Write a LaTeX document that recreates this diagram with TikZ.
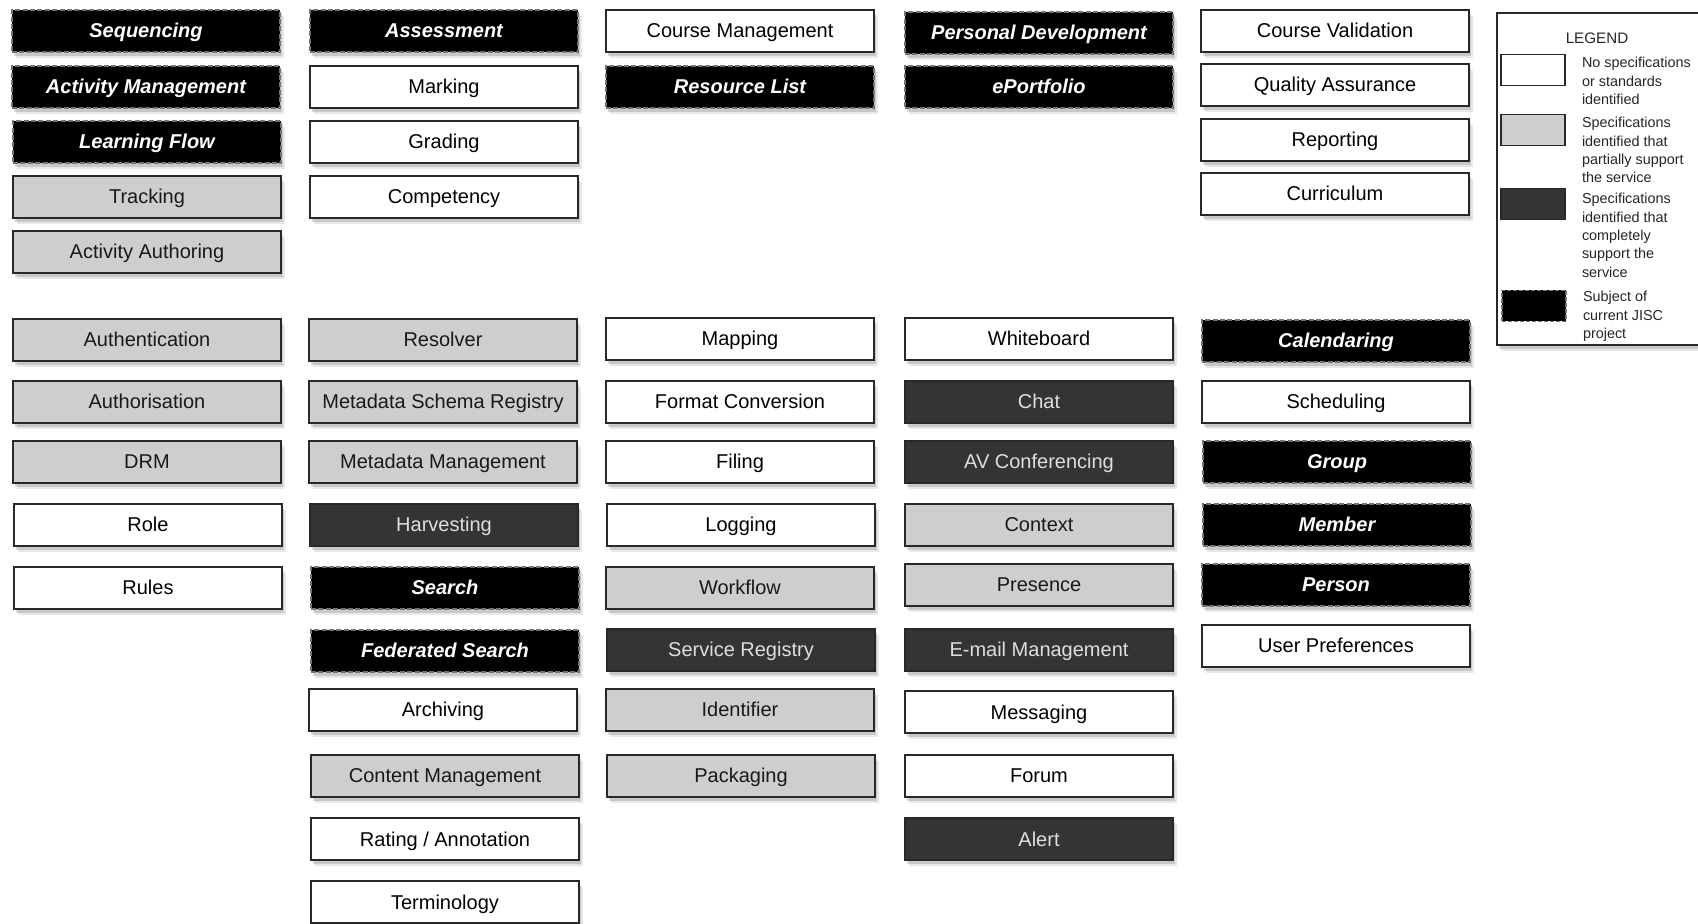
\documentclass[tikz,border=0pt]{standalone}
\usepackage{fontspec}
\setmainfont{Liberation Sans}
\usetikzlibrary{shadows}

\definecolor{partgray}{RGB}{206,206,206}
\definecolor{fullgray}{RGB}{52,52,52}
\definecolor{fulltext}{RGB}{222,222,222}
\definecolor{edgegray}{RGB}{40,40,40}

\tikzset{
  svc/.style={rectangle, minimum width=134pt, minimum height=21pt, inner sep=1pt,
    text height=7.3pt, text depth=0.3pt,
    font=\fontsize{10}{12}\selectfont, draw=edgegray, line width=0.6pt,
    drop shadow={opacity=0.18, shadow xshift=1.8pt, shadow yshift=-3pt},
    drop shadow={opacity=0.3, shadow xshift=1pt, shadow yshift=-1.8pt}},
  nospec/.style={svc, fill=white, text=black},
  partial/.style={svc, fill=partgray, text=black!90},
  complete/.style={svc, fill=fullgray, text=fulltext},
  jisc/.style={svc, fill=black, text=white, draw=black!55, dash pattern=on 2.5pt off 1.2pt,
    font=\fontsize{10}{12}\selectfont\bfseries\itshape},
  swatch/.style={rectangle, minimum width=32pt, minimum height=15.5pt, inner sep=0pt,
    draw=edgegray, line width=0.6pt},
  legtext/.style={anchor=north west, inner sep=0pt, align=left,
    font=\fontsize{7.2}{9.2}\selectfont, text=black!85}
}

\begin{document}
\begin{tikzpicture}[x=0.5pt,y=0.5pt,yscale=-1,xscale=1]
\useasboundingbox (0,0) rectangle (1698,924);
\fill[white] (0,0) rectangle (1698,924);

% Column 1
\node[jisc] (seq) at (146,31) {Sequencing};
\node[jisc] (actmgmt) at (146,87) {Activity Management};
\node[jisc] (learnflow) at (147,142) {Learning Flow};
\node[partial] (tracking) at (147,197) {Tracking};
\node[partial] (actauth) at (147,252) {Activity Authoring};

\node[partial] (authn) at (147,340) {Authentication};
\node[partial] (authz) at (147,402) {Authorisation};
\node[partial] (drm) at (147,462) {DRM};
\node[nospec] (role) at (148,525) {Role};
\node[nospec] (rules) at (148,588) {Rules};

% Column 2
\node[jisc] (assess) at (444,31) {Assessment};
\node[nospec] (marking) at (444,87) {Marking};
\node[nospec] (grading) at (444,142) {Grading};
\node[nospec] (compet) at (444,197) {Competency};

\node[partial] (resolver) at (443,340) {Resolver};
\node[partial] (mdreg) at (443,402) {Metadata Schema Registry};
\node[partial] (mdmgmt) at (443,462) {Metadata Management};
\node[complete] (harvest) at (444,525) {Harvesting};
\node[jisc] (search) at (445,588) {Search};
\node[jisc] (fedsearch) at (445,651) {Federated Search};
\node[nospec] (archive) at (443,710) {Archiving};
\node[partial] (contmgmt) at (445,776) {Content Management};
\node[nospec] (rating) at (445,839) {Rating / Annotation};
\node[nospec] (termin) at (445,902) {Terminology};

% Column 3
\node[nospec] (coursemgmt) at (740,31) {Course Management};
\node[jisc] (reslist) at (740,87) {Resource List};

\node[nospec] (mapping) at (740,339) {Mapping};
\node[nospec] (formconv) at (740,402) {Format Conversion};
\node[nospec] (filing) at (740,462) {Filing};
\node[nospec] (logging) at (741,525) {Logging};
\node[partial] (workflow) at (740,588) {Workflow};
\node[complete] (svcreg) at (741,650) {Service Registry};
\node[partial] (ident) at (740,710) {Identifier};
\node[partial] (packaging) at (741,776) {Packaging};

% Column 4
\node[jisc] (persdev) at (1039,33) {Personal Development};
\node[jisc] (eport) at (1039,87) {ePortfolio};

\node[nospec] (whiteb) at (1039,339) {Whiteboard};
\node[complete] (chat) at (1039,402) {Chat};
\node[complete] (avconf) at (1039,462) {AV Conferencing};
\node[partial] (context) at (1039,525) {Context};
\node[partial] (presence) at (1039,585) {Presence};
\node[complete] (email) at (1039,650) {E-mail Management};
\node[nospec] (messaging) at (1039,712) {Messaging};
\node[nospec] (forum) at (1039,776) {Forum};
\node[complete] (alert) at (1039,839) {Alert};

% Column 5
\node[nospec] (coursevalid) at (1335,31) {Course Validation};
\node[nospec] (qualassur) at (1335,85) {Quality Assurance};
\node[nospec] (reporting) at (1335,140) {Reporting};
\node[nospec] (curric) at (1335,194) {Curriculum};

\node[jisc] (calendar) at (1336,341) {Calendaring};
\node[nospec] (sched) at (1336,402) {Scheduling};
\node[jisc] (group) at (1337,462) {Group};
\node[jisc] (member) at (1337,525) {Member};
\node[jisc] (person) at (1336,585) {Person};
\node[nospec] (userpref) at (1336,646) {User Preferences};

% Legend
\node[rectangle, draw=edgegray, fill=white, line width=0.6pt, minimum width=108pt, minimum height=166pt,
  drop shadow={opacity=0.18, shadow xshift=1.8pt, shadow yshift=-3pt},
  drop shadow={opacity=0.3, shadow xshift=1pt, shadow yshift=-1.8pt}] (legend) at (1605,179) {};
\node[font=\fontsize{7.6}{9}\selectfont, text=black!85] (legtitle) at (1597,38) {LEGEND};
\node[swatch, fill=white] (lg1) at (1533,70) {};
\node[swatch, fill=partgray] (lg2) at (1533,130) {};
\node[swatch, fill=fullgray] (lg3) at (1533,204) {};
\node[swatch, fill=black, draw=black!55, dash pattern=on 2pt off 1pt] (lg4) at (1534,306) {};
\node[legtext] (lt1) at ([xshift=8pt,yshift=1.5pt]lg1.north east) {No specifications\\or standards\\identified};
\node[legtext] (lt2) at ([xshift=8pt,yshift=1.5pt]lg2.north east) {Specifications\\identified that\\partially support\\the service};
\node[legtext] (lt3) at ([xshift=8pt,yshift=2.5pt]lg3.north east) {Specifications\\identified that\\completely\\support the\\service};
\node[legtext] (lt4) at ([xshift=8pt,yshift=0.5pt]lg4.north east) {Subject of\\current JISC\\project};

\end{tikzpicture}
\end{document}
